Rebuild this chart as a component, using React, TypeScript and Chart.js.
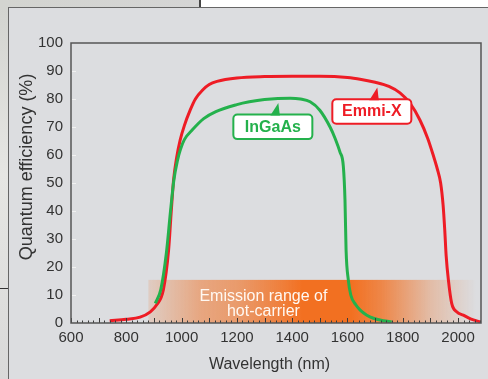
import React, { useEffect, useRef } from "react";
import { Chart, registerables } from "chart.js";

Chart.register(...registerables);

// ---- data ----
const X_TICKS = [600, 800, 1000, 1200, 1400, 1600, 1800, 2000];
const Y_TICKS = [0, 10, 20, 30, 40, 50, 60, 70, 80, 90, 100];
const X_MIN = 600;
const X_MAX = 2083;

const EMMI_WL = [740, 800, 850, 887, 910, 934, 953, 962, 971, 982, 995, 1010, 1031, 1050, 1078, 1100, 1128, 1200, 1300, 1400, 1500, 1600, 1650, 1700, 1750, 1790, 1826, 1862, 1890, 1910, 1925, 1937, 1946, 1952, 1957, 1965, 1977, 1995, 2019, 2045, 2083];
const EMMI_QE = [0.8, 1.3, 2.1, 4, 6.5, 11.8, 26, 39, 51, 59, 65.4, 70.5, 76, 80, 83.4, 85.2, 86.3, 87.5, 88, 88.1, 88.1, 87.7, 87, 86, 84.5, 82.2, 78.5, 72.5, 66, 60, 55, 50, 42, 33, 24, 15.4, 7, 4, 2.8, 1.5, 0.3];

const INGAAS_WL = [905, 925, 945, 960, 972, 985, 996, 1010, 1039, 1080, 1124, 1200, 1245, 1300, 1393, 1430, 1465, 1500, 1537, 1555, 1573, 1585, 1591, 1595, 1603, 1612, 1630, 1646, 1670, 1694, 1730, 1760];
const INGAAS_QE = [7, 12, 25, 40, 51, 58, 62, 65.5, 69, 73, 75.5, 78, 79, 79.8, 80.3, 80, 79, 76, 70, 66, 61, 56, 44, 26, 15.4, 10, 6.5, 4.6, 2.8, 1.7, 0.8, 0.4];

const EMISSION_WL = [880, 2065];
const EMISSION_QE = 15.4;
const EMISSION_TEXT = ["Emission range of", "hot-carrier"];
const EMISSION_TEXT_WL = 1296;

const LABELS = ["InGaAs", "Emmi-X"];
const LABEL_WL = [1350, 1708];
const LABEL_QE = [78.6, 84.1];

const X_TITLE = "Wavelength (nm)";
const Y_TITLE = "Quantum efficiency (%)";

// ---- style ----
const RED = "#ee1c25";
const GREEN = "#24b14c";
const FONT = "'Liberation Sans', Arial, Helvetica, sans-serif";
const TEXT = "#333333";
const LABEL_COLORS = [GREEN, RED];

const decor = {
  id: "decor",
  beforeDatasetsDraw(chart: any) {
    const { ctx, scales } = chart;
    const { x, y } = scales;
    const x0 = x.getPixelForValue(EMISSION_WL[0]);
    const x1 = x.getPixelForValue(EMISSION_WL[1]);
    const yt = y.getPixelForValue(EMISSION_QE);
    const yb = y.getPixelForValue(0);
    const g = ctx.createLinearGradient(x0, 0, x1, 0);
    const c = (a: number) => `rgba(242,112,33,${a})`;
    const stops: [number, number][] = [
      [0, 0.15], [0.16, 0.5], [0.28, 0.62], [0.4, 0.85], [0.47, 1], [0.62, 1],
      [0.71, 0.8], [0.86, 0.3], [0.95, 0.1], [1, 0],
    ];
    stops.forEach(([p, a]) => g.addColorStop(p, c(a)));
    ctx.save();
    ctx.fillStyle = g;
    ctx.fillRect(x0, yt, x1 - x0, yb - yt);
    ctx.fillStyle = "#fff8f2";
    ctx.font = `16px ${FONT}`;
    ctx.textAlign = "center";
    ctx.textBaseline = "middle";
    const tx = x.getPixelForValue(EMISSION_TEXT_WL);
    ctx.fillText(EMISSION_TEXT[0], tx, yt + 17);
    ctx.fillText(EMISSION_TEXT[1], tx, yt + 32);
    ctx.restore();
  },
  afterDatasetsDraw(chart: any) {
    const { ctx, chartArea, scales } = chart;
    const { left, top, right, bottom } = chartArea;
    const { x, y } = scales;
    ctx.save();
    // inward x ticks
    ctx.strokeStyle = "#3a3a3a";
    ctx.lineWidth = 1;
    for (let v = X_MIN; v <= X_MAX; v += 20) {
      const px = Math.round(x.getPixelForValue(v)) + 0.5;
      const len = v % 100 === 0 ? 5 : 2.5;
      ctx.beginPath();
      ctx.moveTo(px, bottom);
      ctx.lineTo(px, bottom - len);
      ctx.stroke();
    }
    // inward y ticks (light)
    ctx.strokeStyle = "#f2f2f2";
    Y_TICKS.slice(1, -1).forEach((v) => {
      const py = Math.round(y.getPixelForValue(v)) + 0.5;
      ctx.beginPath();
      ctx.moveTo(left + 1, py);
      ctx.lineTo(left + 5, py);
      ctx.stroke();
    });
    // frame
    ctx.strokeStyle = "#555555";
    ctx.lineWidth = 1.5;
    ctx.strokeRect(left, top, right - left, bottom - top);

    // callouts
    LABELS.forEach((t, i) => {
      const col = LABEL_COLORS[i];
      const tx = x.getPixelForValue(LABEL_WL[i]);
      const ty = y.getPixelForValue(LABEL_QE[i]);
      const bx = tx - 45;
      const by = ty + 11.7;
      const bw = 79;
      const bh = 24.5;
      ctx.beginPath();
      ctx.roundRect(bx, by, bw, bh, 4);
      ctx.fillStyle = "#ffffff";
      ctx.fill();
      ctx.strokeStyle = col;
      ctx.lineWidth = 2;
      ctx.stroke();
      ctx.beginPath();
      ctx.moveTo(tx - 8, by + 1);
      ctx.lineTo(tx, ty);
      ctx.lineTo(tx + 1.5, by + 1);
      ctx.closePath();
      ctx.fillStyle = col;
      ctx.fill();
      ctx.font = `bold 16px ${FONT}`;
      ctx.textAlign = "center";
      ctx.textBaseline = "middle";
      ctx.fillText(t, bx + bw / 2, by + bh / 2 + 0.5);
    });

    // axis titles
    ctx.fillStyle = TEXT;
    ctx.font = `16px ${FONT}`;
    ctx.textAlign = "center";
    ctx.textBaseline = "middle";
    ctx.fillText(X_TITLE, 269.5, 365);
    ctx.translate(27, 167);
    ctx.rotate(-Math.PI / 2);
    ctx.font = `18px ${FONT}`;
    ctx.fillText(Y_TITLE, 0, 0);
    ctx.restore();
  },
};

export default function App() {
  const ref = useRef<HTMLCanvasElement | null>(null);

  useEffect(() => {
    document.body.style.margin = "0";
    if (!ref.current) return;
    const chart = new Chart(ref.current, {
      type: "line",
      data: {
        datasets: [
          {
            label: "InGaAs",
            data: INGAAS_WL.map((w, i) => ({ x: w, y: INGAAS_QE[i] })),
            borderColor: GREEN,
            borderWidth: 3,
            pointRadius: 0,
            cubicInterpolationMode: "monotone",
            fill: false,
          },
          {
            label: "Emmi-X",
            data: EMMI_WL.map((w, i) => ({ x: w, y: EMMI_QE[i] })),
            borderColor: RED,
            borderWidth: 3,
            pointRadius: 0,
            cubicInterpolationMode: "monotone",
            fill: false,
          },
        ],
      },
      options: {
        responsive: false,
        animation: false,
        devicePixelRatio: 1,
        layout: { padding: { top: 43, right: 7, left: 0, bottom: 0 } },
        plugins: {
          legend: { display: false },
          tooltip: { enabled: false },
          title: { display: false },
        },
        scales: {
          x: {
            type: "linear",
            min: X_MIN,
            max: X_MAX,
            afterBuildTicks: (s: any) => {
              s.ticks = X_TICKS.map((v) => ({ value: v }));
            },
            afterFit: (s: any) => {
              s.height = 56;
            },
            grid: { display: false, drawTicks: false },
            border: { display: false },
            ticks: {
              color: TEXT,
              font: { family: FONT, size: 15 },
              padding: 6,
              maxRotation: 0,
              autoSkip: false,
              callback: (v: any) => String(v),
            },
          },
          y: {
            type: "linear",
            min: 0,
            max: 100,
            afterBuildTicks: (s: any) => {
              s.ticks = Y_TICKS.map((v) => ({ value: v }));
            },
            afterFit: (s: any) => {
              s.width = 71;
            },
            grid: { display: false, drawTicks: false },
            border: { display: false },
            ticks: {
              color: TEXT,
              font: { family: FONT, size: 15 },
              padding: 8,
              autoSkip: false,
              callback: (v: any) => String(v),
            },
          },
        },
      },
      plugins: [decor],
    } as any);
    return () => chart.destroy();
  }, []);

  return (
    <div style={{ position: "relative", width: 488, height: 379, overflow: "hidden", background: "#ffffff" }}>
      <div style={{ position: "absolute", left: 0, top: 0, width: 200, height: 8, background: "linear-gradient(to right, #d3d4d0, #d5d5d5)" }} />
      <div style={{ position: "absolute", left: 199, top: 0, width: 1.5, height: 8, background: "#444" }} />
      <div style={{ position: "absolute", left: 0, top: 8, width: 8, height: 371, background: "linear-gradient(to bottom, #d3d4d0, #e6e6e3 45%, #d9d9d9)" }} />
      <div style={{ position: "absolute", left: 0, top: 288, width: 8, height: 1, background: "#333" }} />
      <div
        style={{
          position: "absolute",
          left: 7.5,
          top: 7,
          right: 0,
          bottom: 0,
          background: "#dcdde0",
          borderTop: "1.5px solid #666",
          borderLeft: "1.5px solid #666",
        }}
      />
      <canvas ref={ref} width={488} height={379} style={{ position: "absolute", left: 0, top: 0, width: 488, height: 379 }} />
    </div>
  );
}
